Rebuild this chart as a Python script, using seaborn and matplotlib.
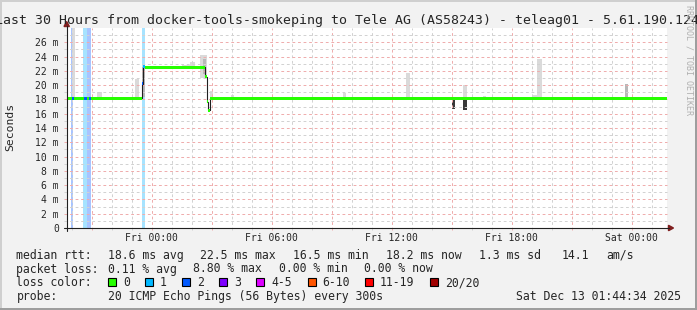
import matplotlib
matplotlib.use("Agg")
import matplotlib.pyplot as plt
import seaborn as sns
import pandas as pd
from matplotlib.patches import Rectangle, Polygon
from matplotlib.lines import Line2D

# ---------------- data (hours since Thu 19:44:34, milliseconds) ----------------
med_t = [0.0, 0.24, 0.34, 0.865, 1.0, 1.115, 1.215, 3.74, 3.815, 3.89, 6.89, 6.99, 7.065, 7.14, 30.0]
med_ms = [18.2, 18.2, 18.2, 18.2, 18.2, 18.2, 18.2, 20.2, 22.6, 22.5, 21.2, 17.7, 16.5, 18.2, 18.2]
med_loss = [0, 2, 0, 2, 0, 2, 0, 2, 1, 0, 0, 0, 0, 0, 0]

lossbar_start = [0.19, 0.815, 0.99, 3.74]
lossbar_end = [0.29, 0.99, 1.19, 3.915]
lossbar_loss = [2, 1, 2, 1]

smoke_start = [0.265, 1.515, 3.415, 3.765, 5.765, 6.165, 6.665, 6.79, 7.165, 8.215,
               13.815, 16.965, 19.265, 19.815, 19.815, 20.815, 23.315, 23.515, 27.915]
smoke_end = [0.415, 1.765, 3.59, 3.915, 6.165, 6.415, 6.99, 6.965, 7.315, 8.365,
             13.965, 17.165, 19.415, 20.015, 20.015, 20.965, 23.515, 23.765, 28.065]
smoke_lo = [18.2, 18.2, 18.2, 18.4, 22.5, 22.5, 21.0, 21.5, 18.2, 18.2,
            18.2, 18.2, 16.6, 16.5, 18.2, 18.2, 18.2, 18.2, 18.2]
smoke_hi = [28.0, 19.1, 20.9, 22.6, 22.8, 23.2, 24.2, 23.6, 19.2, 18.6,
            18.9, 21.7, 18.2, 18.2, 20.0, 18.5, 18.6, 23.7, 20.2]
smoke_shade = ['light', 'light', 'light', 'mid', 'light', 'light', 'light', 'mid', 'light', 'light',
               'light', 'light', 'dark', 'dark', 'light', 'light', 'light', 'light', 'mid']

loss_labels = ['0', '1', '2', '3', '4-5', '6-10', '11-19', '20/20']
loss_colors = ['#26ff00', '#00b8ff', '#0059ff', '#7e00ff', '#dd00ff', '#ff5500', '#ff0000', '#a10000']
loss_light = ['#b0ffa0', '#a6e3ff', '#a8c4ff', '#d0b0ff', '#f0b0ff', '#ffc8b0', '#ffb0b0', '#e0b0b0']

xtick_pos = [4.257, 10.257, 16.257, 22.257, 28.257]
xtick_labels = ['Fri 00:00', 'Fri 06:00', 'Fri 12:00', 'Fri 18:00', 'Sat 00:00']
ytick_pos = list(range(0, 27, 2))
ytick_labels = ['0'] + [f'{v} m' for v in range(2, 27, 2)]

title = "Last 30 Hours from docker-tools-smokeping to Tele AG (AS58243) - teleag01 - 5.61.190.124"
stats_rtt = ["median rtt:", "18.6 ms avg", "22.5 ms max", "16.5 ms min", "18.2 ms now", "1.3 ms sd", "14.1", "am/s"]
stats_loss = ["packet loss:", "0.11 % avg", "8.80 % max", "0.00 % min", "0.00 % now"]
probe_text = ["probe:", "20 ICMP Echo Pings (56 Bytes) every 300s", "Sat Dec 13 01:44:34 2025"]

# ---------------- figure ----------------
W, H = 697, 310
sns.set_style("white")
plt.rcParams['font.family'] = ['DejaVu Sans Mono']

fig = plt.figure(figsize=(W / 100, H / 100), dpi=100, facecolor='#f2f2f2')


def fx(x):
    return x / W


def fy(y):
    return 1 - y / H


ax = fig.add_axes([fx(66.7), fy(228), 600 / W, 200 / H])
ax.set_facecolor('white')
ax.set_xlim(0, 30)
ax.set_ylim(0, 28)
for s in ax.spines.values():
    s.set_visible(False)

# loss background bars
for t0, t1, l in zip(lossbar_start, lossbar_end, lossbar_loss):
    ax.axvspan(t0, t1, color=loss_light[l], lw=0, zorder=1)

# smoke
shade_col = {'light': '#dadada', 'mid': '#b8b8b8', 'dark': '#383838'}
for t0, t1, lo, hi, sh in zip(smoke_start, smoke_end, smoke_lo, smoke_hi, smoke_shade):
    ax.fill_between([t0, t1], [lo, lo], [hi, hi], color=shade_col[sh], lw=0, zorder=2)

# grid
grid_gray = '#d2d2d2'
grid_red = '#efadad'
dash = (0, (2.78, 2.78))
start_min = 44 + 34 / 60
first_hour = (60 - start_min) / 60
for k in range(30):
    t = first_hour + k
    col = grid_red if (20 + k) % 3 == 0 else grid_gray
    ax.vlines(t, -0.3, 28, colors=col, lw=0.72, linestyles=dash, zorder=3, clip_on=False)
for v in range(1, 28):
    col = grid_red if v % 2 == 0 else grid_gray
    ax.hlines(v, -0.15, 30, colors=col, lw=0.72, linestyles=dash, zorder=3, clip_on=False)

# median line
df = pd.DataFrame({'t': med_t, 'ms': med_ms})
sns.lineplot(data=df, x='t', y='ms', drawstyle='steps-post', color='#202020', lw=0.8,
             estimator=None, ax=ax, zorder=4)
half = 0.21
for i in range(len(med_t) - 1):
    m = med_ms[i]
    ax.fill_between([med_t[i], med_t[i + 1]], [m - half] * 2, [m + half] * 2,
                    color=loss_colors[med_loss[i]], lw=0, zorder=5)

ax.set_xlabel('')
ax.set_ylabel('')
ax.set_xticks(xtick_pos)
ax.set_xticklabels(xtick_labels)
ax.set_yticks(ytick_pos)
ax.set_yticklabels(ytick_labels)
ax.tick_params(axis='x', length=0, pad=3.6, labelsize=7)
ax.tick_params(axis='y', length=0, pad=5.6, labelsize=7)

# axes lines and arrows
axis_col = '#1f1f1f'
arrow_col = '#801f1f'
fig.add_artist(Line2D([fx(63.5), fx(669)], [fy(228), fy(228)], color=axis_col, lw=0.8))
fig.add_artist(Line2D([fx(66.7), fx(66.7)], [fy(231), fy(26)], color=axis_col, lw=0.8))
fig.add_artist(Polygon([[fx(668.5), fy(225.3)], [fx(673.5), fy(228)], [fx(668.5), fy(230.7)]],
                       closed=True, color=arrow_col, transform=fig.transFigure))
fig.add_artist(Polygon([[fx(64.0), fy(26.5)], [fx(66.7), fy(21.5)], [fx(69.4), fy(26.5)]],
                       closed=True, color=arrow_col, transform=fig.transFigure))

# texts
fig.text(fx(347), fy(24), title, ha='center', va='baseline', fontsize=9.5)
fig.text(fx(10.5), fy(127), 'Seconds', rotation=90, ha='center', va='center', fontsize=8.2)
fig.text(fx(688.5), fy(5), 'RRDTOOL / TOBI OETIKER', rotation=270, ha='center', va='top',
         fontsize=6, color='#b0b0b0')

row_base = [259, 272.5, 286, 300]
rtt_x = [16.4, 107.6, 200, 293.3, 385.8, 479, 562, 606.7]
for x, s in zip(rtt_x, stats_rtt):
    fig.text(fx(x), fy(row_base[0]), s, ha='left', va='baseline', fontsize=8.3)
loss_x = [16.4, 107.6, 193.3, 279, 364.4]
for x, s in zip(loss_x, stats_loss):
    fig.text(fx(x), fy(row_base[1]), s, ha='left', va='baseline', fontsize=8.3)

fig.text(fx(16.4), fy(row_base[2]), "loss color:", ha='left', va='baseline', fontsize=8.3)
box_x = [108.4, 145.3, 182.2, 219.1, 256.4, 307.6, 365.3, 430.2]
lab_x = [123.1, 160, 196.9, 234.2, 271.1, 322.2, 380, 445.3]
for bx, lx, lab, col in zip(box_x, lab_x, loss_labels, loss_colors):
    fig.add_artist(Rectangle((fx(bx), fy(285.7)), 8 / W, 8 / H, facecolor=col, edgecolor='black',
                             lw=0.8, transform=fig.transFigure))
    fig.text(fx(lx), fy(row_base[2]), lab, ha='left', va='baseline', fontsize=8.3)

fig.text(fx(16.4), fy(row_base[3]), probe_text[0], ha='left', va='baseline', fontsize=8.3)
fig.text(fx(107.6), fy(row_base[3]), probe_text[1], ha='left', va='baseline', fontsize=8.3)
fig.text(fx(680.5), fy(row_base[3]), probe_text[2], ha='right', va='baseline', fontsize=8.3)

# 3D frame
fig.add_artist(Rectangle((0, fy(2)), 1, 2 / H, facecolor='#cfcfcf', lw=0, transform=fig.transFigure))
fig.add_artist(Rectangle((0, 0), 2 / W, 1, facecolor='#cfcfcf', lw=0, transform=fig.transFigure))
fig.add_artist(Rectangle((0, 0), 1, 2 / H, facecolor='#9e9e9e', lw=0, transform=fig.transFigure))
fig.add_artist(Rectangle((fx(695), 0), 2 / W, 1, facecolor='#9e9e9e', lw=0, transform=fig.transFigure))

fig.savefig('out.png', dpi=100, facecolor=fig.get_facecolor())
